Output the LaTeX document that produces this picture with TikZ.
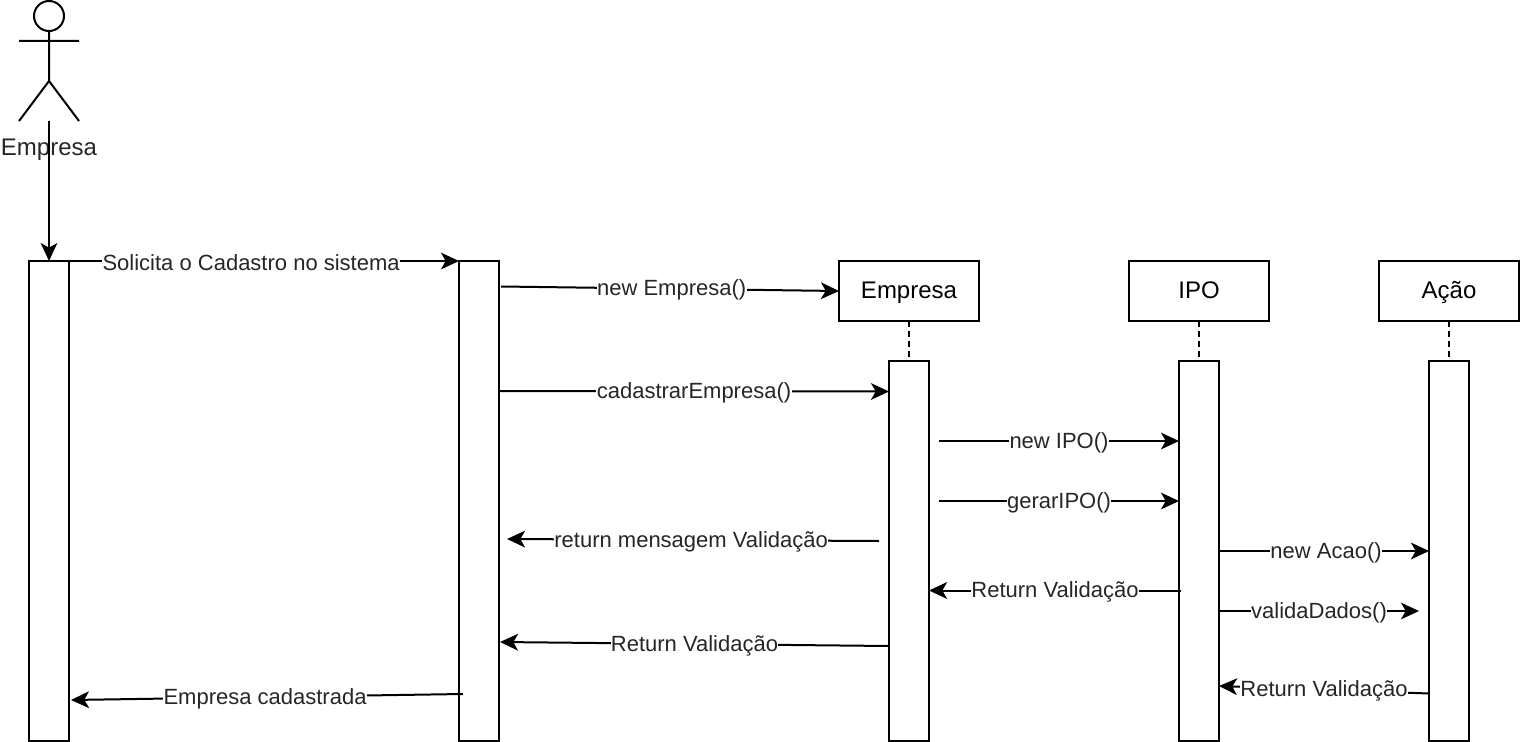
\documentclass[tikz,border=0pt]{standalone}
\usepackage{fontspec}
\setmainfont{Liberation Sans}
\usetikzlibrary{arrows.meta}
\begin{document}
\begin{tikzpicture}[x=0.75pt,y=-0.75pt,
  box/.style={draw,line width=1.5pt,fill=white,inner sep=0pt,outer sep=0pt,anchor=north west},
  conn/.style={draw,line width=1.5pt,-{Stealth[length=13.5pt,width=12.5pt,inset=3.5pt]}},
  life/.style={draw,line width=1.5pt,dash pattern=on 4.5pt off 3pt},
  lbl/.style={fill=white,inner sep=0.3pt,yshift=-1.1pt,font=\fontsize{16.5pt}{19pt}\selectfont,text=black!85,midway},
  head/.style={box,minimum width=105pt,minimum height=45pt,font=\fontsize{18pt}{21pt}\selectfont,text height=13.8pt,text depth=2.7pt},
  pt/.style={inner sep=0pt,minimum size=0pt}]
\useasboundingbox (0,0) rectangle (1520,742);
% bars
\node[box,minimum width=30pt,minimum height=360pt] (a) at (29,261) {};
\node[box,minimum width=30pt,minimum height=360pt] (b) at (459,261) {};
\node[box,minimum width=30pt,minimum height=285pt] (c) at (889,361) {};
\node[box,minimum width=30pt,minimum height=285pt] (d) at (1179,361) {};
\node[box,minimum width=30pt,minimum height=285pt] (e) at (1429,361) {};
\node[head] (he) at (839,261) {Empresa};
\node[head] (hi) at (1129,261) {IPO};
\node[head] (ha) at (1379,261) {Ação};
\draw[life] (he.south) -- (c.north);
\draw[life] (hi.south) -- (d.north);
\draw[life] (ha.south) -- (e.north);
% actor
\draw[line width=1.5pt] (49,16) circle (15);
\coordinate (act) at (49,121);
\draw[line width=1.5pt] (49,31) -- (49,81) (19,41) -- (79,41) (19,121) -- (49,81) -- (79,121);
\node[pt,font=\fontsize{18pt}{21pt}\selectfont,text=black!85] (actl) at (49,150) {Empresa};
\draw[conn] (act) -- (a.north);
% messages
\draw[conn] (69,261) -- node[lbl,pos=.467]{Solicita o Cadastro no sistema} (b.north west);
\draw[conn] (501,286.5) -- node[lbl,pos=.505]{new Empresa()} (he.west);
\draw[conn] (499,391) -- node[lbl]{cadastrarEmpresa()} (889,391.5);
\draw[conn] (939,441) -- node[lbl]{new IPO()} (1179,441);
\draw[conn] (939,501) -- node[lbl]{gerarIPO()} (1179,501);
\draw[conn] (879,541) -- node[lbl,pos=.505]{return mensagem Validação} (507,539);
\draw[conn] (1219,551) -- node[lbl,pos=.51]{new Acao()} (1429,551);
\draw[conn] (1181,590.5) -- node[lbl]{Return Validação} (929,590.5);
\draw[conn] (1219,611) -- node[lbl]{validaDados()} (1419,611);
\draw[conn] (889,646) -- node[lbl]{Return Validação} (500,642);
\draw[conn] (1429,693.5) -- node[lbl]{Return Validação} (1219,686);
\draw[conn] (463,694) -- node[lbl,pos=.505]{Empresa cadastrada} (71,700);
\end{tikzpicture}
\end{document}
